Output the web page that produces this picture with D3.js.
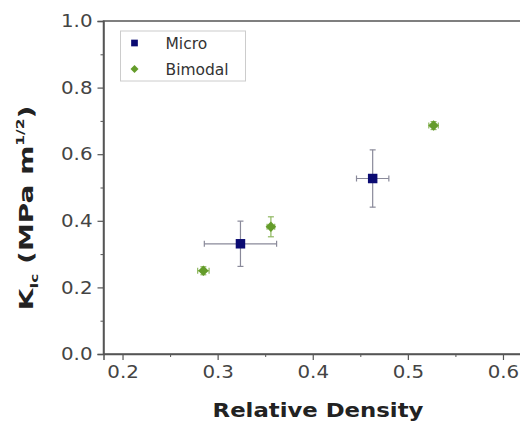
<!DOCTYPE html>
<html>
<head>
<meta charset="utf-8">
<script src="https://cdn.jsdelivr.net/npm/d3@7"></script>
<style>
  body { margin: 0; background: #fff; }
  text { font-family: "DejaVu Sans", sans-serif; }
</style>
</head>
<body>
<div id="chart"></div>
<script>
// Micro series: x, y, x error, y error
var microX = [0.324, 0.463];
var microY = [0.331, 0.527];
var microXErr = [0.038, 0.017];
var microYErr = [0.068, 0.086];

// Bimodal series
var bimodalX = [0.285, 0.356, 0.527];
var bimodalY = [0.250, 0.382, 0.686];
var bimodalXErr = [0.006, 0.004, 0.005];
var bimodalYErr = [0.012, 0.03, 0.012];

var xTicks = [0.2, 0.3, 0.4, 0.5, 0.6];
var yTicks = [0.0, 0.2, 0.4, 0.6, 0.8, 1.0];

var margin = { top: 21, right: -2, bottom: 68, left: 103.5 },
  width = 520 - margin.left - margin.right,
  height = 422 - margin.top - margin.bottom;

var svg = d3.select("#chart")
  .append("svg")
  .attr("width", 520)
  .attr("height", 422)
  .append("g")
  .attr("transform", "translate(" + margin.left + "," + margin.top + ")");

var x = d3.scaleLinear().domain([0.18, 0.62]).range([0, width]);
var y = d3.scaleLinear().domain([0, 1.0]).range([height, 0]);

var axisColor = "#555";

// frame
svg.append("rect")
  .attr("x", 0).attr("y", 0)
  .attr("width", width).attr("height", height)
  .attr("fill", "none")
  .attr("stroke", axisColor)
  .attr("stroke-width", 1.5);

// minor ticks
svg.append("g")
  .attr("transform", "translate(0," + height + ")")
  .call(d3.axisBottom(x).tickValues([0.25, 0.35, 0.45, 0.55]).tickSize(3).tickFormat(""))
  .call(function(g) { g.select(".domain").remove(); g.selectAll("line").attr("stroke", axisColor); });

svg.append("g")
  .call(d3.axisLeft(y).tickValues([0.1, 0.3, 0.5, 0.7, 0.9]).tickSize(3).tickFormat(""))
  .call(function(g) { g.select(".domain").remove(); g.selectAll("line").attr("stroke", axisColor); });

// major axes
var xAxis = svg.append("g")
  .attr("transform", "translate(0," + height + ")")
  .call(d3.axisBottom(x).tickValues(xTicks).tickSize(6).tickPadding(5).tickFormat(d3.format(".1f")));

var yAxis = svg.append("g")
  .call(d3.axisLeft(y).tickValues(yTicks).tickSize(6).tickPadding(4).tickFormat(d3.format(".1f")));

[xAxis, yAxis].forEach(function(g) {
  g.select(".domain").attr("stroke", axisColor).attr("stroke-width", 1.5);
  g.selectAll("line").attr("stroke", axisColor).attr("stroke-width", 1.2);
  g.selectAll("text")
    .style("font-family", "DejaVu Sans, sans-serif")
    .style("font-size", "18px")
    .attr("fill", "#444");
});
xAxis.selectAll("text").attr("transform", "scale(1.1,1)");
yAxis.selectAll("text").attr("x", -10).attr("transform", "scale(1.1,1)");

// axis labels
svg.append("text")
  .attr("transform", "translate(" + (318 - margin.left) + "," + (417 - margin.top) + ") scale(1.2,1)")
  .attr("text-anchor", "middle")
  .style("font-size", "19px")
  .style("font-weight", "bold")
  .attr("fill", "#222")
  .text("Relative Density");

var yl = svg.append("text")
  .attr("transform", "translate(" + (33 - margin.left) + "," + (208 - margin.top) + ") rotate(-90) scale(1.4,1)")
  .attr("text-anchor", "middle")
  .style("font-size", "20px")
  .style("font-weight", "bold")
  .attr("fill", "#222");
yl.append("tspan").text("K");
yl.append("tspan").attr("dy", 5).style("font-size", "11px").text("Ic");
yl.append("tspan").attr("dy", -5).text(" (MPa m");
yl.append("tspan").attr("dy", -9).style("font-size", "11px").text("1/2");
yl.append("tspan").attr("dy", 9).text(")");

// error bars
function errorBars(xs, ys, xe, ye, color) {
  var g = svg.append("g").attr("stroke", color).attr("stroke-width", 1.2);
  var cap = 3;
  xs.forEach(function(xv, i) {
    var yv = ys[i];
    g.append("line").attr("x1", x(xv - xe[i])).attr("x2", x(xv + xe[i])).attr("y1", y(yv)).attr("y2", y(yv));
    g.append("line").attr("x1", x(xv - xe[i])).attr("x2", x(xv - xe[i])).attr("y1", y(yv) - cap).attr("y2", y(yv) + cap);
    g.append("line").attr("x1", x(xv + xe[i])).attr("x2", x(xv + xe[i])).attr("y1", y(yv) - cap).attr("y2", y(yv) + cap);
    g.append("line").attr("x1", x(xv)).attr("x2", x(xv)).attr("y1", y(yv - ye[i])).attr("y2", y(yv + ye[i]));
    g.append("line").attr("x1", x(xv) - cap).attr("x2", x(xv) + cap).attr("y1", y(yv - ye[i])).attr("y2", y(yv - ye[i]));
    g.append("line").attr("x1", x(xv) - cap).attr("x2", x(xv) + cap).attr("y1", y(yv + ye[i])).attr("y2", y(yv + ye[i]));
  });
}

var microColor = "#0b0b72";
var bimodalColor = "#649c2a";

errorBars(microX, microY, microXErr, microYErr, "#8a8a9a");
errorBars(bimodalX, bimodalY, bimodalXErr, bimodalYErr, "#8fb860");

var square = d3.symbol().type(d3.symbolSquare).size(90);
var diamond = d3.symbol().type(d3.symbolSquare).size(55);

svg.selectAll(".micro")
  .data(microX)
  .enter()
  .append("path")
  .attr("class", "micro")
  .attr("d", square)
  .attr("transform", function(d, i) { return "translate(" + x(d) + "," + y(microY[i]) + ")"; })
  .attr("fill", microColor);

svg.selectAll(".bimodal")
  .data(bimodalX)
  .enter()
  .append("path")
  .attr("class", "bimodal")
  .attr("d", diamond)
  .attr("transform", function(d, i) { return "translate(" + x(d) + "," + y(bimodalY[i]) + ") rotate(45)"; })
  .attr("fill", bimodalColor);

// legend
var legend = svg.append("g").attr("transform", "translate(17,10)");
legend.append("rect")
  .attr("width", 125).attr("height", 50)
  .attr("fill", "#fff")
  .attr("stroke", "#ccc");

var legendData = [
  { name: "Micro", color: microColor, sym: d3.symbol().type(d3.symbolSquare).size(45), rot: 0 },
  { name: "Bimodal", color: bimodalColor, sym: d3.symbol().type(d3.symbolSquare).size(32), rot: 45 }
];

var items = legend.selectAll(".legend-item")
  .data(legendData)
  .enter()
  .append("g")
  .attr("transform", function(d, i) { return "translate(0," + (i * 26) + ")"; });

items.append("path")
  .attr("d", function(d) { return d.sym(); })
  .attr("transform", function(d) { return "translate(14,12) rotate(" + d.rot + ")"; })
  .attr("fill", function(d) { return d.color; });

items.append("text")
  .attr("x", 45)
  .attr("y", 18)
  .style("font-size", "15.5px")
  .attr("fill", "#333")
  .text(function(d) { return d.name; });
</script>
</body>
</html>
